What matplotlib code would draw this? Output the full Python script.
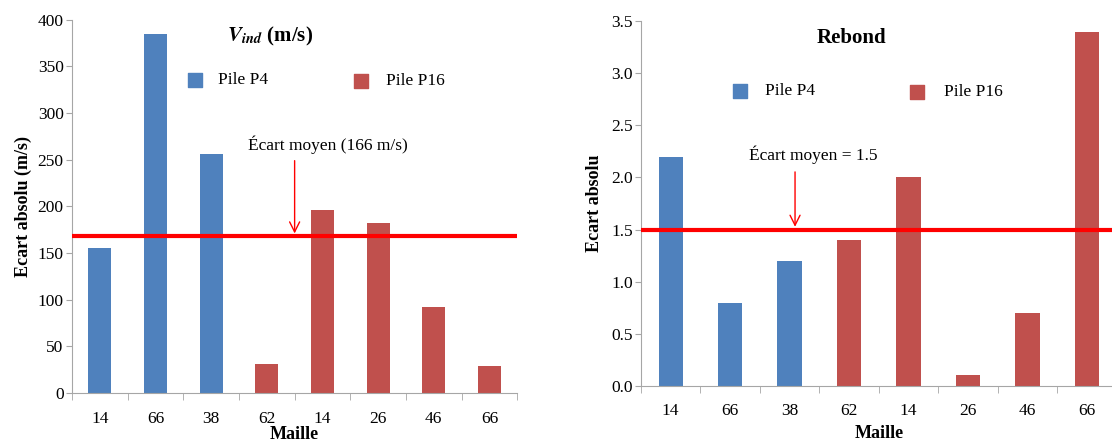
import numpy as np
import matplotlib
matplotlib.use("Agg")
import matplotlib.pyplot as plt

plt.rcParams['font.family'] = ['Liberation Serif', 'DejaVu Serif']

# data
mailles = ["14", "66", "38", "62", "14", "26", "46", "66"]
pile = ["P4", "P4", "P4", "P16", "P16", "P16", "P16", "P16"]
vind = [155, 385, 256, 31, 196, 182, 92, 29]
rebond = [2.2, 0.8, 1.2, 1.4, 2.0, 0.1, 0.7, 3.4]
vind_mean = 168
rebond_mean = 1.5

blue = "#4F81BD"
red = "#C0504D"
grey = "#A6A6A6"

fig = plt.figure(figsize=(11.12, 4.41), dpi=100)
ax1 = fig.add_axes([0.0647, 0.109, 0.4005, 0.846])
ax2 = fig.add_axes([0.5764, 0.125, 0.428, 0.827])

colors = [blue if p == "P4" else red for p in pile]
x = np.arange(len(mailles))


def style(ax, vals, ymax, ystep, fmt, xpad, lpad):
    ax.bar(x, vals, width=0.41, color=colors, zorder=2)
    ax.set_xlim(-0.5, len(mailles) - 0.5)
    ax.set_ylim(0, ymax)
    ticks = np.arange(0, ymax + ystep / 2, ystep)
    ax.set_yticks(ticks)
    ax.set_yticklabels([fmt.format(v) for v in ticks], fontsize=12.5)
    ax.set_xticks(x)
    ax.set_xticklabels(mailles, fontsize=12.5)
    ax.set_xticks(np.arange(-0.5, len(mailles)), minor=True)
    ax.tick_params(axis="x", which="major", length=0, pad=xpad)
    ax.tick_params(axis="x", which="minor", length=5, color=grey, direction="out")
    ax.tick_params(axis="y", length=4, color=grey, direction="out", pad=2)
    for s in ["top", "right"]:
        ax.spines[s].set_visible(False)
    for s in ["left", "bottom"]:
        ax.spines[s].set_color(grey)
    ax.set_xlabel("Maille", fontsize=13, fontweight="bold", labelpad=lpad)


# left panel
style(ax1, vind, 400, 50, "{:.0f}", 13, -1)
ax1.axhline(vind_mean, color="#FF0000", lw=3, zorder=3)
ax1.set_ylabel("Ecart absolu (m/s)", fontsize=13, fontweight="bold", labelpad=4)
ax1.text(3.06, 382, r"$\mathbfit{V}_{\mathbfit{ind}}$ (m/s)", fontsize=15, fontweight="bold",
         ha="center", va="center", math_fontfamily="stix")
ax1.annotate("", xy=(3.5, vind_mean), xytext=(3.5, 252),
             arrowprops=dict(arrowstyle="->", color="#FF0000", lw=1, mutation_scale=18))
ax1.text(4.1, 266, "Écart moyen (166 m/s)", fontsize=12.5, ha="center", va="center")
ax1.scatter([1.71], [336], marker="s", s=110, color=blue, clip_on=False)
ax1.text(2.13, 336, "Pile P4", fontsize=12.5, va="center")
ax1.scatter([4.69], [334], marker="s", s=110, color=red, clip_on=False)
ax1.text(5.15, 334, "Pile P16", fontsize=12.5, va="center")

# right panel
style(ax2, rebond, 3.5, 0.5, "{:.1f}", 12, 5)
ax2.axhline(rebond_mean, color="#FF0000", lw=3, zorder=3)
ax2.set_ylabel("Ecart absolu", fontsize=13, fontweight="bold", labelpad=6)
ax2.text(3.04, 3.34, "Rebond", fontsize=15, fontweight="bold", ha="center", va="center")
ax2.annotate("", xy=(2.09, rebond_mean), xytext=(2.09, 2.08),
             arrowprops=dict(arrowstyle="->", color="#FF0000", lw=1, mutation_scale=18))
ax2.text(2.39, 2.22, "Écart moyen = 1.5", fontsize=12.5, ha="center", va="center")
ax2.scatter([1.16], [2.83], marker="s", s=110, color=blue, clip_on=False)
ax2.text(1.59, 2.83, "Pile P4", fontsize=12.5, va="center")
ax2.scatter([4.14], [2.82], marker="s", s=110, color=red, clip_on=False)
ax2.text(4.6, 2.82, "Pile P16", fontsize=12.5, va="center")

fig.savefig("out.png", dpi=100)
